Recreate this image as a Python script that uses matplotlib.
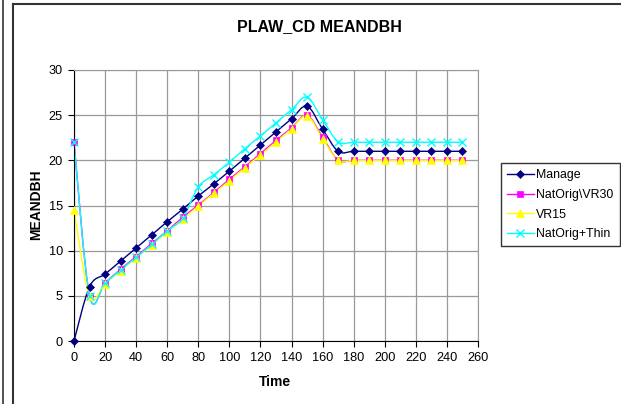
import matplotlib
matplotlib.use("Agg")
import matplotlib.pyplot as plt
from matplotlib.lines import Line2D
from matplotlib.path import Path
from matplotlib.patches import PathPatch

plt.rcParams['font.family'] = ['Liberation Sans', 'DejaVu Sans']

time = [0, 10, 20, 30, 40, 50, 60, 70, 80, 90, 100, 110, 120, 130, 140, 150,
        160, 170, 180, 190, 200, 210, 220, 230, 240, 250]
manage = [0, 6.0, 7.4, 8.85, 10.3, 11.75, 13.2, 14.6, 16.05, 17.4, 18.8, 20.25,
          21.7, 23.15, 24.6, 26.0, 23.45, 21, 21, 21, 21, 21, 21, 21, 21, 21]
natorig_vr30 = [22, 5.0, 6.45, 7.95, 9.35, 10.8, 12.2, 13.7, 15.05, 16.45, 17.9,
                19.3, 20.75, 22.2, 23.6, 25.0, 22.55, 20, 20, 20, 20, 20, 20, 20, 20, 20]
vr15 = [14.55, 4.95, 6.35, 7.8, 9.2, 10.65, 12.1, 13.5, 14.95, 16.35, 17.75,
        19.2, 20.6, 22.05, 23.5, 24.95, 22.4, 20, 20, 20, 20, 20, 20, 20, 20, 20]
natorig_thin = [22, 5.0, 6.4, 7.9, 9.25, 10.7, 12.2, 13.6, 17.05, 18.4, 19.8,
                21.3, 22.7, 24.15, 25.6, 27.0, 24.5, 22.05, 22, 22, 22, 22, 22, 22, 22, 22]

series_names = ['Manage', 'NatOrig\\VR30', 'VR15', 'NatOrig+Thin']
series_values = [manage, natorig_vr30, vr15, natorig_thin]
colors = ['#000080', '#FF00FF', '#FFFF00', '#00FFFF']
markers = ['D', 's', '^', 'x']
msizes = [4.5, 5, 6, 5.5]


def smooth_path(xs, ys):
    """Excel-like smoothed line: cubic Bezier segments (Catmull-Rom tangents)."""
    verts = [(xs[0], ys[0])]
    codes = [Path.MOVETO]
    n = len(xs)
    for i in range(n - 1):
        i0 = max(i - 1, 0)
        i3 = min(i + 2, n - 1)
        c1 = (xs[i] + (xs[i + 1] - xs[i0]) / 6.0, ys[i] + (ys[i + 1] - ys[i0]) / 6.0)
        c2 = (xs[i + 1] - (xs[i3] - xs[i]) / 6.0, ys[i + 1] - (ys[i3] - ys[i]) / 6.0)
        verts += [c1, c2, (xs[i + 1], ys[i + 1])]
        codes += [Path.CURVE4] * 3
    return Path(verts, codes)


fig = plt.figure(figsize=(6.21, 4.04), dpi=100)

# outer frames
fig.add_artist(Line2D([3/621, 3/621], [0, 1], color='#333333', lw=1.2))
fig.add_artist(Line2D([13/621, 13/621], [0, 1 - 4/404], color='#333333', lw=1.5))
fig.add_artist(Line2D([13/621, 1], [1 - 4/404, 1 - 4/404], color='#333333', lw=1.5))

L, R, T, B = 74, 478, 70, 341
ax = fig.add_axes([L/621, 1 - B/404, (R - L)/621, (B - T)/404])

handles = []
for name, vals, c, m, ms in zip(series_names, series_values, colors, markers, msizes):
    ax.add_patch(PathPatch(smooth_path(time, vals), facecolor='none', edgecolor=c,
                           lw=1.0, zorder=2))
    ax.plot(time, vals, ls='none', color=c, marker=m, markersize=ms,
            markeredgecolor=c, markeredgewidth=1.0 if m == 'x' else 0.5,
            clip_on=False, zorder=3)
    handles.append(Line2D([], [], color=c, lw=1.0, marker=m, markersize=ms,
                          markeredgecolor=c,
                          markeredgewidth=1.0 if m == 'x' else 0.5, label=name))

ax.set_xlim(0, 260)
ax.set_ylim(0, 30)
ax.set_xticks(range(0, 261, 20))
ax.set_yticks(range(0, 31, 5))
ax.grid(True, color='#999999', lw=0.9)
ax.set_axisbelow(True)
for s in ['top', 'right']:
    ax.spines[s].set_color('#999999')
for s in ['left', 'bottom']:
    ax.spines[s].set_color('black')
ax.tick_params(axis='both', direction='out', length=4, labelsize=9.2, color='black', pad=4)

fig.text(319/621, 1 - 27/404, 'PLAW_CD MEANDBH', fontsize=11.5, fontweight='bold',
         ha='center', va='center')
fig.text(275/621, 1 - 382/404, 'Time', fontsize=10, fontweight='bold',
         ha='center', va='center')
fig.text(36/621, 1 - 205/404, 'MEANDBH', fontsize=10, fontweight='bold',
         ha='center', va='center', rotation=90)

leg = ax.legend(handles=handles, loc='upper left', bbox_to_anchor=(501/621, 1 - 163/404),
                bbox_transform=fig.transFigure, fontsize=8.9, frameon=True,
                fancybox=False, edgecolor='black', handlelength=2.15,
                handletextpad=0.2, borderpad=0.5, labelspacing=0.62, borderaxespad=0)
leg.get_frame().set_linewidth(1.0)

fig.savefig('out.png', dpi=100)
